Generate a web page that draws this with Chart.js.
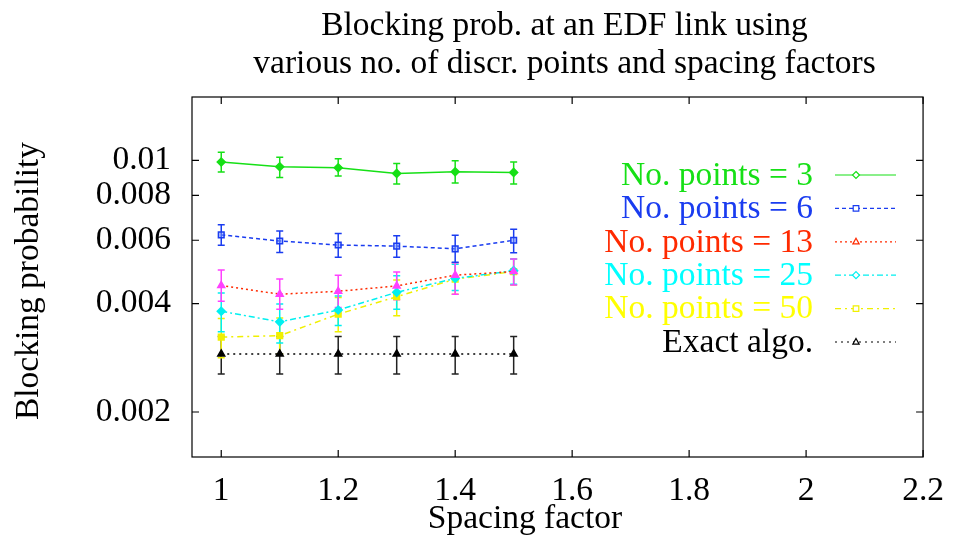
<!DOCTYPE html>
<html>
<head>
<meta charset="utf-8">
<script src="https://cdn.jsdelivr.net/npm/chart.js@4/dist/chart.umd.min.js"></script>
<style>
html,body{margin:0;padding:0;background:#fff;}
#wrap{width:958px;height:542px;position:relative;}
</style>
</head>
<body>
<div id="wrap"><canvas id="c" width="958" height="542"></canvas></div>
<script>
// ---- data ----
const spacing = [1, 1.1, 1.2, 1.3, 1.4, 1.5];

const pts3   = [0.00990, 0.00960, 0.00954, 0.00920, 0.00930, 0.00926];
const pts3Lo = [0.00928, 0.00897, 0.00905, 0.00860, 0.00865, 0.00860];
const pts3Hi = [0.01054, 0.01020, 0.01010, 0.00980, 0.00997, 0.00990];

const pts6   = [0.00621, 0.00597, 0.00582, 0.00578, 0.00568, 0.00600];
const pts6Lo = [0.00581, 0.00555, 0.00538, 0.00538, 0.00521, 0.00554];
const pts6Hi = [0.00663, 0.00637, 0.00627, 0.00618, 0.00620, 0.00644];

const pts13   = [0.00449, 0.00425, 0.00433, 0.00448, 0.00480, 0.00491];
const pts13Lo = [0.00406, 0.00386, 0.00390, 0.00410, 0.00425, 0.00451];
const pts13Hi = [0.00496, 0.00468, 0.00480, 0.00490, 0.00520, 0.00532];

const pts25   = [0.00381, 0.00356, 0.00384, 0.00430, 0.00470, 0.00494];
const pts25Lo = [0.00334, 0.00311, 0.00348, 0.00386, 0.00435, 0.00453];
const pts25Hi = [0.00428, 0.00399, 0.00420, 0.00478, 0.00515, 0.00532];

const pts50   = [0.00323, 0.00326, 0.00374, 0.00418, 0.00468, 0.00491];
const pts50Lo = [0.00283, 0.00290, 0.00334, 0.00370, 0.00425, 0.00451];
const pts50Hi = [0.00364, 0.00365, 0.00416, 0.00465, 0.00520, 0.00532];

const exact   = [0.00290, 0.00290, 0.00290, 0.00290, 0.00290, 0.00290];
const exactLo = [0.00255, 0.00255, 0.00255, 0.00255, 0.00255, 0.00255];
const exactHi = [0.00324, 0.00324, 0.00324, 0.00324, 0.00324, 0.00324];

const seriesLabels = ['No. points = 3', 'No. points = 6', 'No. points = 13', 'No. points = 25', 'No. points = 50', 'Exact algo.'];

const xTicks = [1, 1.2, 1.4, 1.6, 1.8, 2, 2.2];
const xTickLabels = ['1', '1.2', '1.4', '1.6', '1.8', '2', '2.2'];
const yTicks = [0.002, 0.004, 0.006, 0.008, 0.01];
const yTickLabels = ['0.002', '0.004', '0.006', '0.008', '0.01'];

const titleLines = ['Blocking prob. at an EDF link using', 'various no. of discr. points and spacing factors'];
const xTitle = 'Spacing factor';
const yTitle = 'Blocking probability';

// ---- styles ----
const FONT = '"Liberation Serif", "Times New Roman", serif';
const FS = 33.5;
const styles = [
  {color:'#16e016', text:'#16e016', err:'#16e016', pt:'rectRot', fill:'#16e016', dash:[]},
  {color:'#1a3cf0', text:'#1a3cf0', err:'#1a3cf0', pt:'rect', fill:'rgba(120,150,255,0.5)', dash:[4,3]},
  {color:'#ff2a00', text:'#ff2a00', err:'#ff40ff', pt:'triangle', fill:'#ff40ff', dash:[2,3], ptColor:'#ff40ff'},
  {color:'#00f0f0', text:'#00ffff', err:'#00f0f0', pt:'rectRot', fill:'#00f0f0', dash:[6,3,2,3]},
  {color:'#f0f000', text:'#ffff00', err:'#f0f000', pt:'rect', fill:'#f0f000', dash:[6,4,2,4]},
  {color:'#000000', text:'#000000', err:'#222222', pt:'triangle', fill:'#000000', dash:[2,4]}
];
const values = [pts3, pts6, pts13, pts25, pts50, exact];
const lows = [pts3Lo, pts6Lo, pts13Lo, pts25Lo, pts50Lo, exactLo];
const highs = [pts3Hi, pts6Hi, pts13Hi, pts25Hi, pts50Hi, exactHi];

const datasets = values.map((v, i) => ({
  label: seriesLabels[i],
  data: spacing.map((x, j) => ({x: x, y: v[j]})),
  borderColor: styles[i].color,
  borderWidth: 1.5,
  borderDash: styles[i].dash,
  pointStyle: styles[i].pt,
  pointRadius: 4,
  pointBorderWidth: 1.5,
  pointBorderColor: styles[i].ptColor || styles[i].color,
  pointBackgroundColor: styles[i].fill,
  fill: false,
  tension: 0
}));

const errorBars = {
  id: 'errorBars',
  beforeDatasetsDraw(chart) {
    const ctx = chart.ctx, xs = chart.scales.x, ys = chart.scales.y;
    ctx.save();
    ctx.lineWidth = 1.5;
    ctx.setLineDash([]);
    for (let i = values.length - 1; i >= 0; i--) {
      ctx.strokeStyle = styles[i].err;
      spacing.forEach((x, j) => {
        const px = xs.getPixelForValue(x);
        const y1 = ys.getPixelForValue(lows[i][j]);
        const y2 = ys.getPixelForValue(highs[i][j]);
        ctx.beginPath();
        ctx.moveTo(px, y1); ctx.lineTo(px, y2);
        ctx.moveTo(px - 3.5, y1); ctx.lineTo(px + 3.5, y1);
        ctx.moveTo(px - 3.5, y2); ctx.lineTo(px + 3.5, y2);
        ctx.stroke();
      });
    }
    ctx.restore();
  }
};

function drawMarker(ctx, style, x, y, r, stroke, fill) {
  ctx.save();
  ctx.setLineDash([]);
  ctx.strokeStyle = stroke; ctx.fillStyle = fill; ctx.lineWidth = 1.2;
  ctx.beginPath();
  if (style === 'rectRot') {
    ctx.moveTo(x, y - r); ctx.lineTo(x + r, y); ctx.lineTo(x, y + r); ctx.lineTo(x - r, y); ctx.closePath();
  } else if (style === 'rect') {
    ctx.rect(x - r * 0.8, y - r * 0.8, r * 1.6, r * 1.6);
  } else {
    ctx.moveTo(x, y - r); ctx.lineTo(x + r * 0.9, y + r * 0.6); ctx.lineTo(x - r * 0.9, y + r * 0.6); ctx.closePath();
  }
  ctx.fill(); ctx.stroke();
  ctx.restore();
}

const decor = {
  id: 'decor',
  afterDraw(chart) {
    const ctx = chart.ctx, a = chart.chartArea, xs = chart.scales.x, ys = chart.scales.y;
    ctx.save();
    // frame
    ctx.strokeStyle = '#000'; ctx.lineWidth = 1.2; ctx.setLineDash([]);
    ctx.strokeRect(a.left, a.top, a.right - a.left, a.bottom - a.top);
    // inward ticks (mirror)
    ctx.beginPath();
    xTicks.forEach(v => {
      const px = xs.getPixelForValue(v);
      ctx.moveTo(px, a.bottom); ctx.lineTo(px, a.bottom - 7);
      ctx.moveTo(px, a.top); ctx.lineTo(px, a.top + 7);
    });
    yTicks.forEach(v => {
      const py = ys.getPixelForValue(v);
      ctx.moveTo(a.left, py); ctx.lineTo(a.left + 7, py);
      ctx.moveTo(a.right, py); ctx.lineTo(a.right - 7, py);
    });
    ctx.stroke();

    // title
    ctx.fillStyle = '#000';
    ctx.font = FS + 'px ' + FONT;
    ctx.textAlign = 'center'; ctx.textBaseline = 'middle';
    const cx = (a.left + a.right) / 2;
    ctx.fillText(titleLines[0], cx + 7, 26);
    ctx.fillText(titleLines[1], cx + 7, 64);
    // x title
    ctx.fillText(xTitle, 525, 519);
    // y title
    ctx.save();
    ctx.translate(29, 281);
    ctx.rotate(-Math.PI / 2);
    ctx.fillText(yTitle, 0, 0);
    ctx.restore();

    // legend
    ctx.textAlign = 'right';
    seriesLabels.forEach((lab, i) => {
      const y = 175 + i * 33.4;
      ctx.fillStyle = styles[i].text;
      ctx.fillText(lab, 813, y + 1);
      ctx.strokeStyle = styles[i].color;
      ctx.lineWidth = 1.2;
      ctx.setLineDash(styles[i].dash);
      ctx.beginPath(); ctx.moveTo(835, y); ctx.lineTo(896, y); ctx.stroke();
      drawMarker(ctx, styles[i].pt, 856, y, 3.5, styles[i].color, '#fff');
    });
    ctx.restore();
  }
};

Chart.defaults.font.family = FONT;
Chart.defaults.color = '#000';

new Chart(document.getElementById('c'), {
  type: 'line',
  data: { datasets: datasets },
  options: {
    responsive: false,
    animation: false,
    layout: { padding: { top: 97, right: 17, left: 0, bottom: 0 } },
    plugins: { legend: { display: false }, title: { display: false }, tooltip: { enabled: false } },
    scales: {
      x: {
        type: 'linear', min: 0.95, max: 2.2,
        grid: { display: false, drawTicks: false },
        border: { display: false },
        afterBuildTicks: s => { s.ticks = xTicks.map(v => ({ value: v })); },
        afterFit: s => { s.height = 85; },
        ticks: {
          font: { size: FS, family: FONT }, color: '#000', padding: 14, maxRotation: 0, autoSkip: false,
          callback: (v, idx) => xTickLabels[idx]
        }
      },
      y: {
        type: 'logarithmic', min: 0.0015, max: 0.015,
        grid: { display: false, drawTicks: false },
        border: { display: false },
        afterBuildTicks: s => { s.ticks = yTicks.map(v => ({ value: v })); },
        afterFit: s => { s.width = 192; },
        ticks: {
          font: { size: FS, family: FONT }, color: '#000', padding: 21, autoSkip: false,
          callback: (v, idx) => yTickLabels[idx]
        }
      }
    }
  },
  plugins: [errorBars, decor]
});
</script>
</body>
</html>
